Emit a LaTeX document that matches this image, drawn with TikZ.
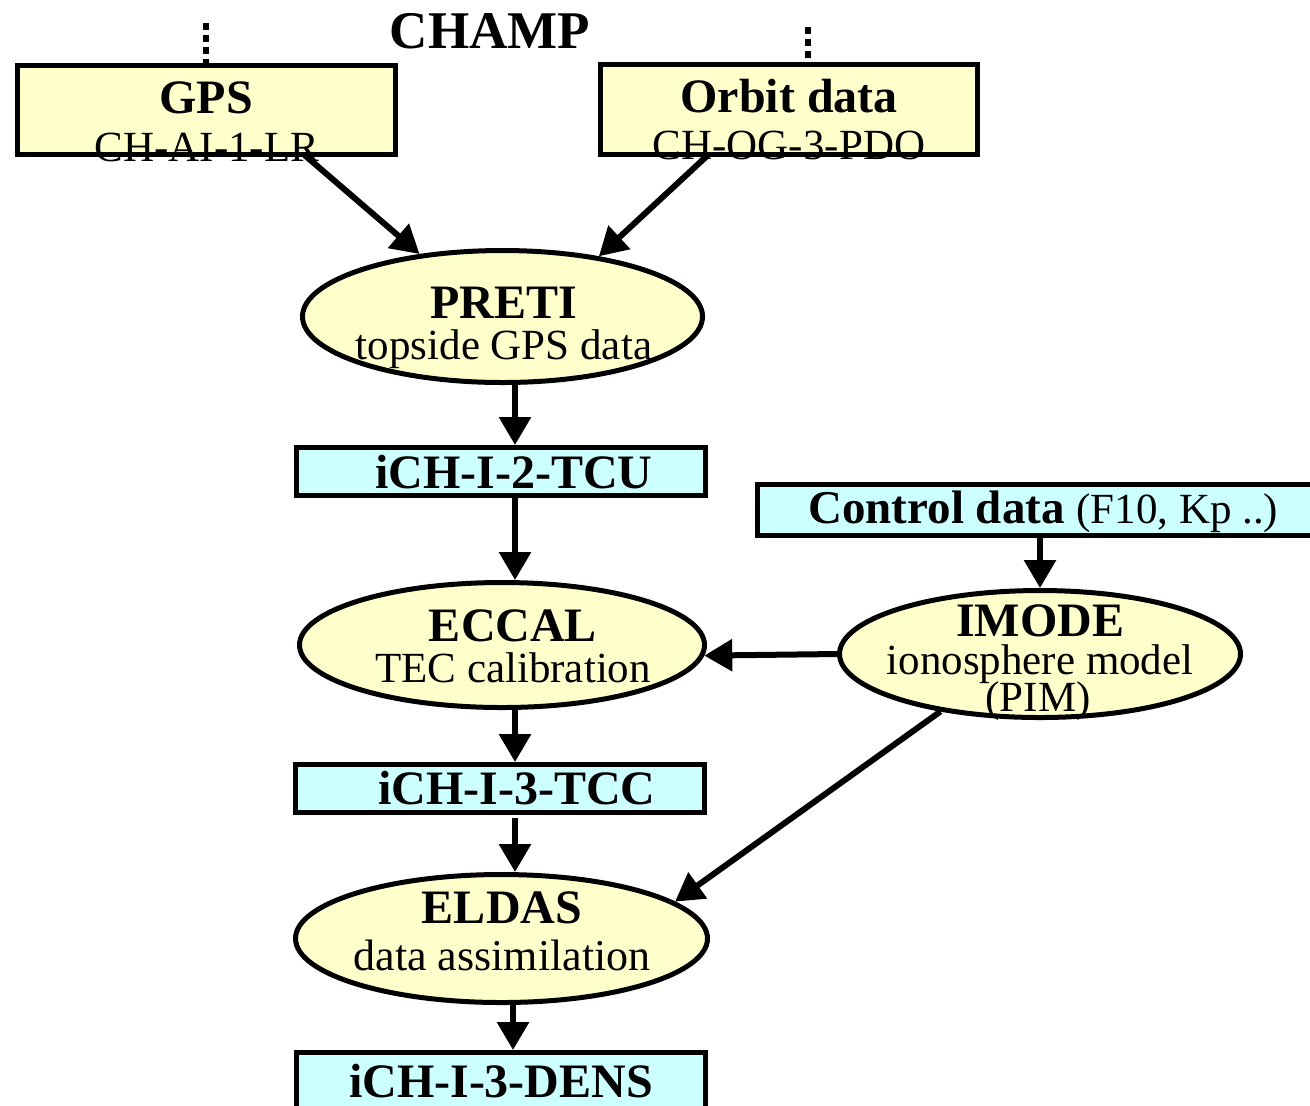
\documentclass[tikz,border=0pt]{standalone}
\usepackage{fontspec}
\setmainfont{Liberation Serif}
\usetikzlibrary{shapes.geometric,arrows.meta,calc}
\definecolor{boxyellow}{RGB}{255,255,204}
\definecolor{boxcyan}{RGB}{204,255,255}
\begin{document}
\begin{tikzpicture}[x=0.5pt,y=-0.5pt,
  yelbox/.style={draw=black,line width=2.5pt,fill=boxyellow,inner sep=0pt},
  cyanbox/.style={draw=black,line width=2.5pt,fill=boxcyan,inner sep=0pt},
  ellbox/.style={ellipse,draw=black,line width=2.5pt,fill=boxyellow,inner sep=0pt},
  arr/.style={line width=3pt,-{Triangle[length=14pt,width=15.5pt]}},
  dotl/.style={line width=3.3pt,dash pattern=on 3.5pt off 2.5pt},
  ttl/.style={font=\fontsize{24}{24}\selectfont\bfseries,inner sep=0pt,anchor=base},
  sub/.style={font=\fontsize{21.5}{21.5}\selectfont,inner sep=0pt,anchor=base}]
\useasboundingbox (0,0) rectangle (1310,1105);
\clip (0,0) rectangle (1310,1105);

% shapes
\node[yelbox,minimum width=189pt,minimum height=44.5pt] (gps) at (206.5,110) {};
\node[yelbox,minimum width=188.5pt,minimum height=45pt] (orbit) at (789,109.5) {};
\node[ellbox,minimum width=200pt,minimum height=66pt] (preti) at (502.5,316.5) {};
\node[cyanbox,minimum width=204.5pt,minimum height=24pt] (tcu) at (501,471.5) {};
\node[cyanbox,minimum width=291.25pt,minimum height=25.5pt] (ctrl) at (1048.75,510) {};
\node[ellbox,minimum width=202.5pt,minimum height=62.5pt] (eccal) at (502,645) {};
\node[ellbox,minimum width=200.5pt,minimum height=63.5pt] (imode) at (1040,654) {};
\node[cyanbox,minimum width=204.5pt,minimum height=24pt] (tcc) at (500,788.5) {};
\node[ellbox,minimum width=206pt,minimum height=64pt] (eldas) at (501.5,938.5) {};
\node[cyanbox,minimum width=204.5pt,minimum height=40pt] (dens) at (501,1092.5) {};

% helper coordinates
\coordinate (col) at (515,0);
\coordinate (gpstop) at (206,23);
\coordinate (orbtop) at (808,27);

% dotted lines
\draw[dotl] (gpstop) -- (gpstop |- gps.north);
\draw[dotl] (orbtop) -- (orbtop |- orbit.north);

% arrows
\draw[arr] ($(gps.south)+(98,-2)$) -- (preti.143);
\draw[arr] ($(orbit.south)+(-81,-2)$) -- (preti.32);
\draw[arr] (preti.south -| col) -- (tcu.north -| col);
\draw[arr] (tcu.south -| col) -- (eccal.north -| col);
\draw[arr] (eccal.south -| col) -- (tcc.north -| col);
\draw[arr] ($(tcc.south -| col)+(0,3)$) -- (eldas.north -| col);
\draw[arr] ($(eldas.south -| col)+(-2,0)$) -- ($(dens.north -| col)+(-2,0)$);
\draw[arr] (ctrl.south -| imode.north) -- (imode.north);
\draw[arr] (imode.west) -- (eccal.-3);
\draw[arr] (imode.210) -- (eldas.12);

% texts
\node[font=\fontsize{26.5}{26.5}\selectfont\bfseries,inner sep=0pt,anchor=base] (champ) at (490,48) {CHAMP};
\node[ttl] (gpsT) at (206,113) {GPS};
\node[sub] (gpsS) at (207,161) {CH-AI-1-LR};
\node[ttl] (orbT) at (789,112) {Orbit data};
\node[sub] (orbS) at (789,159) {CH-OG-3-PDO};
\node[ttl] (pretiT) at (504,318) {PRETI};
\node[sub] (pretiS) at (504,359) {topside GPS data};
\node[ttl] (tcuT) at (514,488) {iCH-I-2-TCU};
\node[inner sep=0pt,anchor=base west] (ctrlT) at (808,523)
  {\fontsize{23.5}{23.5}\selectfont\bfseries Control data \fontsize{21.5}{21.5}\selectfont\mdseries(F10, Kp ..)};
\node[ttl] (eccalT) at (513,641) {ECCAL};
\node[sub] (eccalS) at (513,682) {TEC calibration};
\node[ttl] (imodeT) at (1040,636) {IMODE};
\node[sub] (imodeS) at (1040,674) {ionosphere model};
\node[sub] (imodeP) at (1038,711) {(PIM)};
\node[ttl] (tccT) at (517,804) {iCH-I-3-TCC};
\node[ttl] (eldasT) at (502,923) {ELDAS};
\node[font=\fontsize{22}{22}\selectfont,inner sep=0pt,anchor=base] (eldasS) at (502,970) {data assimilation};
\node[ttl] (densT) at (501,1097) {iCH-I-3-DENS};
\end{tikzpicture}
\end{document}
